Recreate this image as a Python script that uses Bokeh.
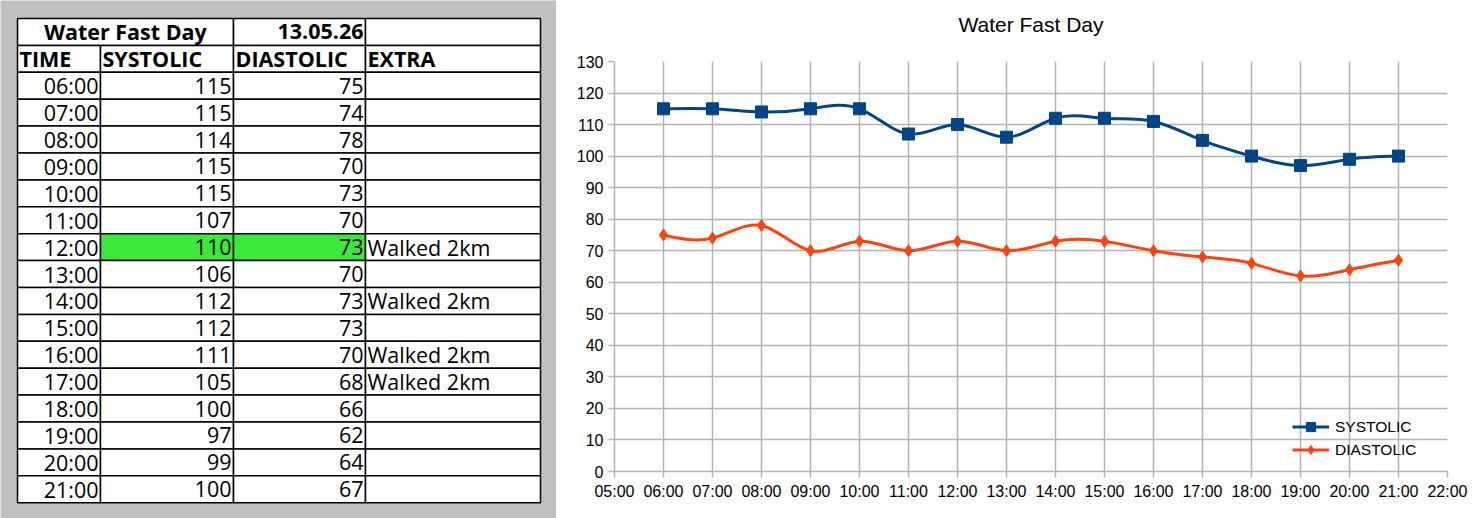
import numpy as np
from bokeh.plotting import figure
from bokeh.layouts import row
from bokeh.models import Range1d, FixedTicker, Legend, LegendItem
from bokeh.core.properties import value
from bokeh.embed import file_html
from bokeh.resources import INLINE

# ---------------- data ----------------
title_text = "Water Fast Day"
date_text = "13.05.26"
headers = ["TIME", "SYSTOLIC", "DIASTOLIC", "EXTRA"]
hours = [6, 7, 8, 9, 10, 11, 12, 13, 14, 15, 16, 17, 18, 19, 20, 21]
systolic = [115, 115, 114, 115, 115, 107, 110, 106, 112, 112, 111, 105, 100, 97, 99, 100]
diastolic = [75, 74, 78, 70, 73, 70, 73, 70, 73, 73, 70, 68, 66, 62, 64, 67]
extra = ["", "", "", "", "", "", "Walked 2km", "", "Walked 2km", "", "Walked 2km", "Walked 2km", "", "", "", ""]
highlight_hour = 12
x_ticks = list(range(5, 23))
y_ticks = list(range(0, 131, 10))

def hlabel(h):
    return "%02d:00" % h

# ---------------- table figure ----------------
TW, TH = 556, 518
col_edges = [17, 100, 233, 365, 540]
row_top = 18
row_h = 26.9
n_rows = 2 + len(hours)

t = figure(width=TW, height=TH, x_range=Range1d(0, TW), y_range=Range1d(TH, 0),
           output_backend="svg", toolbar_location=None, min_border=0,
           background_fill_color="#c0c0c0", border_fill_color="#c0c0c0",
           outline_line_color=None, frame_align=False)
t.axis.visible = False
t.grid.visible = False

def ry(i):
    return row_top + i * row_h

lefts, rights, tops, bottoms, fills = [], [], [], [], []
for (a, b) in [(0, 2), (2, 3), (3, 4)]:
    lefts.append(col_edges[a]); rights.append(col_edges[b])
    tops.append(ry(0)); bottoms.append(ry(1)); fills.append("white")
for r in range(1, n_rows):
    for c in range(4):
        fill = "white"
        if r >= 2 and hours[r - 2] == highlight_hour and c in (1, 2):
            fill = "#3de83d"
        lefts.append(col_edges[c]); rights.append(col_edges[c + 1])
        tops.append(ry(r)); bottoms.append(ry(r + 1)); fills.append(fill)
t.quad(left=lefts, right=rights, top=tops, bottom=bottoms, fill_color=fills,
       line_color="#000000", line_width=1.5)

font = value("Open Sans")
fs = "21.5px"
pad = 2
t.text(x=[(col_edges[0] + col_edges[2]) / 2], y=[ry(0.5)], text=[title_text],
       text_font=font, text_font_size=fs, text_font_style="bold",
       text_align="center", text_baseline="middle", text_color="black")
t.text(x=[col_edges[3] - pad], y=[ry(0.5)], text=[date_text],
       text_font=font, text_font_size=fs, text_font_style="bold",
       text_align="right", text_baseline="middle", text_color="black")
t.text(x=[e + pad for e in col_edges[:4]], y=[ry(1.5)] * 4, text=headers,
       text_font=font, text_font_size=fs, text_font_style="bold",
       text_align="left", text_baseline="middle", text_color="black")
ys = [ry(2.5 + i) for i in range(len(hours))]
t.text(x=[col_edges[1] - pad] * len(hours), y=ys, text=[hlabel(h) for h in hours],
       text_font=font, text_font_size=fs, text_align="right", text_baseline="middle", text_color="black")
t.text(x=[col_edges[2] - pad] * len(hours), y=ys, text=[str(v) for v in systolic],
       text_font=font, text_font_size=fs, text_align="right", text_baseline="middle", text_color="black")
t.text(x=[col_edges[3] - pad] * len(hours), y=ys, text=[str(v) for v in diastolic],
       text_font=font, text_font_size=fs, text_align="right", text_baseline="middle", text_color="black")
t.text(x=[col_edges[3] + pad] * len(hours), y=ys, text=extra,
       text_font=font, text_font_size=fs, text_align="left", text_baseline="middle", text_color="black")

# ---------------- chart figure ----------------
CW, CH = 925, 518
p = figure(width=CW, height=CH, x_range=Range1d(5, 22), y_range=Range1d(0, 130),
           output_backend="svg", toolbar_location=None, title=title_text + "\n",
           min_border_left=58, min_border_right=34, min_border_top=61, min_border_bottom=47,
           outline_line_color=None, background_fill_color="white", frame_align=False)
p.title.align = "center"
p.title.text_font = "Liberation Sans"
p.title.text_font_size = "21px"
p.title.text_font_style = "normal"
p.title.text_color = "black"
p.title.standoff = 6

gray = "#b3b3b3"
for ax in (p.xaxis[0], p.yaxis[0]):
    ax.axis_line_color = gray
    ax.axis_line_width = 1.5
    ax.major_tick_line_color = gray
    ax.major_tick_line_width = 1.5
    ax.major_tick_out = 6
    ax.major_tick_in = 0
    ax.minor_tick_line_color = None
    ax.major_label_text_font = "Liberation Sans"
    ax.major_label_text_font_size = "16px"
    ax.major_label_text_color = "black"
    ax.major_label_standoff = 5
p.xaxis.ticker = FixedTicker(ticks=x_ticks)
p.xaxis.major_label_overrides = {h: hlabel(h) for h in x_ticks}
p.yaxis.ticker = FixedTicker(ticks=y_ticks)
p.grid.grid_line_color = gray
p.grid.grid_line_width = 1.5


def spline_beziers(xs, ys):
    xs = np.asarray(xs, float); ys = np.asarray(ys, float)
    n = len(xs)
    h = np.diff(xs)
    A = np.zeros((n, n)); b = np.zeros(n)
    A[0, 0] = 1; A[-1, -1] = 1
    for i in range(1, n - 1):
        A[i, i - 1] = h[i - 1]; A[i, i] = 2 * (h[i - 1] + h[i]); A[i, i + 1] = h[i]
        b[i] = 6 * ((ys[i + 1] - ys[i]) / h[i] - (ys[i] - ys[i - 1]) / h[i - 1])
    M = np.linalg.solve(A, b)
    x0, y0, x1, y1 = xs[:-1], ys[:-1], xs[1:], ys[1:]
    s = (y1 - y0) / h
    d0 = s - h * (2 * M[:-1] + M[1:]) / 6
    d1 = s + h * (M[:-1] + 2 * M[1:]) / 6
    return dict(x0=x0, y0=y0, x1=x1, y1=y1,
                cx0=x0 + h / 3, cy0=y0 + d0 * h / 3,
                cx1=x1 - h / 3, cy1=y1 - d1 * h / 3)

blue = "#004586"
orange = "#ff420e"
bs = spline_beziers(hours, systolic)
bd = spline_beziers(hours, diastolic)
r1 = p.bezier(line_color=blue, line_width=3, **bs)
m1 = p.scatter(hours, systolic, marker="square", size=12, fill_color=blue, line_color=blue)
r2 = p.bezier(line_color=orange, line_width=3, **bd)
m2 = p.scatter(hours, diastolic, marker="diamond", size=12, fill_color=orange, line_color=orange)

legend = Legend(items=[LegendItem(label="SYSTOLIC", renderers=[r1, m1]),
                       LegendItem(label="DIASTOLIC", renderers=[r2, m2])],
                location=(678, 10), border_line_color=None, background_fill_alpha=0,
                label_text_font="Liberation Sans", label_text_font_size="15.5px",
                label_text_color="black",
                glyph_width=37, glyph_height=23, spacing=0, padding=4, margin=0,
                label_standoff=6)
p.add_layout(legend)

layout = row(t, p)
open("out.html", "w").write(file_html(layout, INLINE))
